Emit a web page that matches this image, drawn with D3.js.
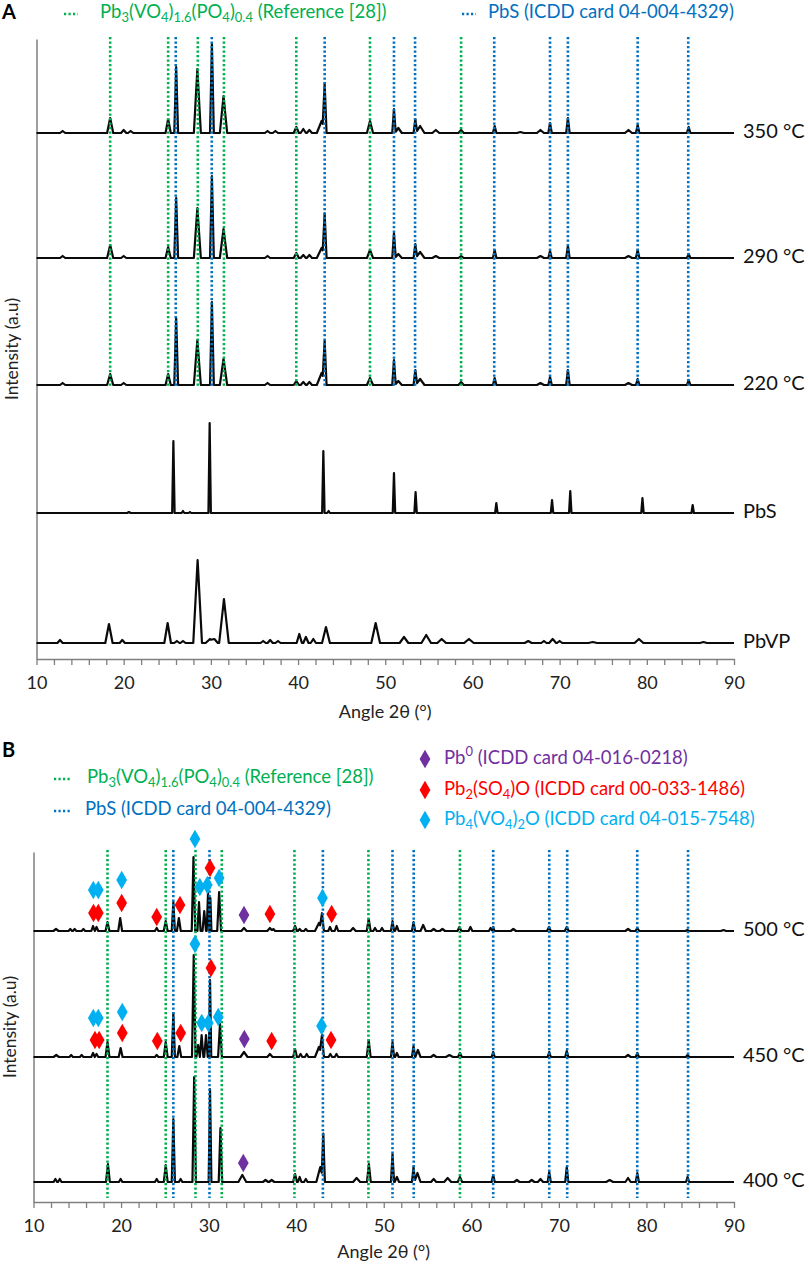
<!DOCTYPE html>
<html>
<head>
<meta charset="utf-8">
<script src="https://cdnjs.cloudflare.com/ajax/libs/d3/7.8.5/d3.min.js"></script>
<style>
  body { margin: 0; background: #fff; }
  svg { display: block; font-family: Lato, 'Open Sans', sans-serif; }
</style>
</head>
<body>
<svg></svg>
<script>
// reference reflections (2θ, degrees)
let vpLines = [18.45, 25.1, 28.5, 31.5, 39.8, 48.25, 58.7];
let pbsLines = [25.97, 30.1, 43.05, 51.0, 53.42, 62.5, 68.9, 70.95, 78.95, 84.75];

// peaks: [2θ, height above baseline, half width at foot]
let peaks350 = [[13.0,2,0.3],[18.45,15,0.35],[20.0,3,0.3],[20.8,2,0.3],[25.1,14,0.3],[26.02,66,0.22],[28.45,64,0.4],[30.12,89,0.22],[31.45,37,0.42],[36.5,2,0.3],[37.4,2,0.3],[39.8,6,0.3],[40.6,4,0.3],[41.3,3,0.3],[42.7,12,0.55],[43.05,45,0.22],[48.25,12,0.35],[51.0,24,0.2],[51.5,5,0.4],[53.45,14,0.2],[54.0,7,0.5],[55.8,3,0.4],[58.7,3,0.3],[62.55,7,0.2],[65.5,1,0.4],[67.8,3,0.4],[68.9,10,0.2],[70.95,15,0.2],[77.9,3,0.4],[78.95,8,0.2],[84.8,6,0.2]];
let peaks290 = [[13.0,2,0.3],[18.45,13,0.35],[20.0,2,0.3],[25.1,11,0.3],[26.02,60,0.22],[28.45,50,0.4],[30.12,82,0.22],[31.45,29,0.42],[36.5,2,0.3],[39.8,5,0.3],[40.6,3,0.3],[41.3,3,0.3],[42.7,10,0.55],[43.05,41,0.22],[48.25,8,0.35],[51.0,25,0.2],[51.5,4,0.4],[53.45,14,0.2],[54.0,6,0.5],[55.8,2,0.4],[58.7,2,0.3],[62.55,8,0.2],[67.8,2,0.4],[68.9,7,0.2],[70.95,12,0.2],[77.9,2,0.4],[78.95,8,0.2],[84.8,4,0.2]];
let peaks220 = [[13.0,2,0.3],[18.45,11,0.35],[20.0,2,0.3],[25.1,11,0.3],[26.02,67,0.22],[28.45,45,0.4],[30.12,83,0.22],[31.45,26,0.42],[36.5,2,0.3],[39.8,4,0.3],[40.6,3,0.3],[41.3,3,0.3],[42.7,12,0.55],[43.05,40,0.22],[48.25,7,0.35],[51.0,25,0.2],[51.5,4,0.4],[53.45,15,0.2],[54.0,6,0.5],[58.7,3,0.3],[62.55,7,0.2],[67.8,2,0.4],[68.9,8,0.2],[70.95,15,0.2],[77.9,2,0.4],[78.95,6,0.2],[84.8,5,0.2]];
let peaksPbS = [[20.6,1,0.2],[25.7,72,0.14],[26.8,2,0.15],[27.6,1,0.15],[29.86,90,0.14],[42.9,62,0.14],[43.5,2,0.15],[51.0,40,0.14],[53.48,21,0.14],[62.74,10,0.14],[69.13,13,0.14],[71.22,22,0.14],[79.5,15,0.14],[85.26,8,0.14]];
let peaksPbVP = [[12.7,3,0.3],[18.31,19,0.42],[19.84,3,0.3],[25.04,20,0.38],[26.1,2,0.3],[26.8,2,0.3],[28.48,83,0.5],[29.9,4,0.5],[30.4,4,0.4],[31.5,44,0.55],[36.0,2,0.3],[36.8,3,0.3],[37.7,2,0.3],[40.14,9,0.3],[40.9,6,0.3],[41.75,4,0.3],[43.2,16,0.45],[48.9,20,0.5],[52.15,6,0.5],[54.7,8,0.55],[56.47,4,0.5],[59.6,4,0.55],[66.4,2,0.4],[68.2,2,0.3],[69.2,4,0.4],[70.0,2,0.3],[73.8,1,0.5],[79.1,4,0.5],[86.5,1,0.4]];

let peaks500 = [[12.57,2,0.3],[14.2,2,0.2],[14.7,2,0.2],[15.7,2,0.2],[16.8,5,0.2],[17.2,4,0.2],[18.45,9,0.22],[19.9,13,0.22],[24.07,3,0.2],[25.1,10,0.22],[25.97,29,0.18],[26.6,13,0.22],[28.27,74,0.2],[28.9,29,0.18],[29.5,20,0.2],[29.93,38,0.15],[30.2,33,0.12],[31.2,39,0.22],[34.04,3,0.3],[37.0,3,0.3],[37.4,2,0.2],[39.87,5,0.22],[40.4,2,0.2],[41.1,2,0.2],[42.6,8,0.45],[42.95,16,0.22],[43.86,4,0.2],[44.6,5,0.2],[46.5,3,0.3],[48.28,12,0.22],[49.0,3,0.2],[49.8,3,0.2],[51.0,10,0.18],[51.5,5,0.2],[53.4,9,0.18],[54.5,6,0.3],[55.7,2,0.3],[56.7,2,0.3],[58.64,4,0.22],[59.9,4,0.22],[62.2,3,0.2],[62.5,4,0.15],[64.8,2,0.3],[68.87,4,0.22],[70.9,4,0.22],[77.9,2,0.3],[78.96,3,0.22],[84.67,1,0.2],[88.8,1,0.3]];
let peaks450 = [[12.6,2,0.3],[14.3,2,0.2],[15.5,2,0.2],[16.8,4,0.2],[17.2,3,0.2],[18.45,15,0.22],[19.95,9,0.22],[24.07,2,0.2],[25.1,15,0.22],[25.97,44,0.18],[26.65,11,0.22],[28.3,102,0.2],[28.8,12,0.2],[29.2,22,0.2],[29.7,22,0.2],[30.16,77,0.14],[31.3,33,0.22],[34.04,5,0.4],[37.0,3,0.3],[39.87,8,0.22],[40.5,3,0.2],[41.2,3,0.2],[42.6,10,0.45],[42.95,20,0.22],[43.9,3,0.2],[44.6,3,0.2],[48.28,17,0.22],[51.0,15,0.18],[51.5,4,0.2],[53.4,11,0.18],[53.9,7,0.3],[55.7,2,0.3],[57.5,2,0.4],[58.7,4,0.22],[62.5,5,0.18],[68.9,5,0.18],[70.9,6,0.18],[77.9,2,0.3],[78.96,4,0.18],[84.7,2,0.2]];
let peaks400 = [[12.5,3,0.2],[13.0,3,0.2],[18.5,18,0.22],[19.95,3,0.2],[24.07,3,0.2],[25.1,17,0.22],[25.97,63,0.18],[26.8,3,0.2],[28.35,105,0.2],[30.16,93,0.16],[31.35,54,0.2],[33.85,7,0.45],[36.5,2,0.3],[37.2,2,0.3],[39.87,8,0.22],[40.4,5,0.2],[41.1,3,0.2],[42.75,15,0.45],[43.1,45,0.18],[46.9,4,0.4],[48.3,18,0.22],[51.0,28,0.18],[51.5,5,0.25],[53.4,15,0.18],[53.85,9,0.35],[55.7,3,0.3],[57.3,4,0.4],[58.7,5,0.25],[62.5,7,0.18],[65.2,2,0.3],[66.9,2,0.3],[67.9,3,0.3],[68.9,10,0.18],[70.9,15,0.18],[75.8,2,0.4],[77.9,4,0.3],[78.96,9,0.18],[84.7,5,0.18]];

// stacking baselines (a.u.) and names
let namesA = ['350 °C', '290 °C', '220 °C', 'PbS', 'PbVP'];
let basesA = [526, 401, 274, 146, 16];
let namesB = ['500 °C', '450 °C', '400 °C'];
let basesB = [271, 145, 20];

// phase markers in panel B: [2θ, intensity a.u.]
let cyanMarks = [[16.83,312],[17.4,312],[20.07,322],[28.44,363],[29.0,315],[29.85,317],[31.2,324],[43.0,304],
                 [16.83,184],[17.4,184],[20.14,190],[28.44,258],[29.21,179],[29.96,179],[31.1,185],[42.9,176]];
let redMarks = [[16.85,289],[17.4,289],[20.07,299],[24.07,285],[26.73,297],[30.16,334],[37.0,288],[44.05,288],
                [17.02,162],[17.5,162],[20.14,169],[24.14,161],[26.81,169],[30.27,234],[37.2,161],[43.98,162]];
let purpleMarks = [[34.04,287],[34.08,163],[33.96,39]];

let ticks = d3.range(10, 91, 2);

let vpLegend = [['Pb'],['3','sub'],['(VO'],['4','sub'],[')'],['1.6','sub'],['(PO'],['4','sub'],[')'],['0.4','sub'],[' (Reference [28])']];
let pbsLegend = [['PbS (ICDD card 04-004-4329)']];
let pb0Legend = [['Pb'],['0','sup'],[' (ICDD card 04-016-0218)']];
let pb2Legend = [['Pb'],['2','sub'],['(SO'],['4','sub'],[')O (ICDD card 00-033-1486)']];
let pb4Legend = [['Pb'],['4','sub'],['(VO'],['4','sub'],[')'],['2','sub'],['O (ICDD card 04-015-7548)']];

let green = '#00b050', blue = '#0070c0', red = '#ff0000', cyan = '#00b0f0', purple = '#7030a0';
let axisColor = '#7f7f7f';
let legendSize = 18.5;

let width = 809;
let height = 1265;

let svg = d3.select('svg').attr('width', width).attr('height', height);

// sum of triangular peaks on a flat baseline, evaluated at every foot/top
let tracePoints = (peaks, base) => {
    let xs = [10, 90];
    peaks.forEach(p => xs.push(p[0] - p[2], p[0], p[0] + p[2]));
    xs = xs.filter(x => x >= 10 && x <= 90).sort((a, b) => a - b);
    return xs.map(x => {
        let y = base;
        peaks.forEach(p => {
            let d = Math.abs(x - p[0]);
            if (d < p[2]) y += p[1] * (1 - d / p[2]);
        });
        return [x, y];
    });
}

let richText = (x, y, parts, color, size) => {
    let t = svg.append('text')
               .attr('x', x).attr('y', y)
               .attr('fill', color)
               .attr('dominant-baseline', 'middle')
               .style('font-size', size + 'px');
    let shift = 0;
    parts.forEach(p => {
        let kind = p[1] || '';
        let target = kind === 'sub' ? size * 0.3 : kind === 'sup' ? -size * 0.35 : 0;
        t.append('tspan')
         .attr('dy', target - shift)
         .style('font-size', kind ? (size * 0.7) + 'px' : null)
         .text(p[0]);
        shift = target;
    });
}

let dottedKey = (x1, x2, y, color) => {
    svg.append('line')
       .attr('x1', x1).attr('x2', x2).attr('y1', y).attr('y2', y)
       .attr('stroke', color).attr('stroke-width', 2.5)
       .attr('stroke-dasharray', '2.2,2.3');
}

let diamond = d3.symbol(d3.symbolDiamond, 100);

let drawPanel = (cfg) => {
    let x = d3.scaleLinear().domain([10, 90]).range(cfg.xRange);
    let y = d3.scaleLinear().domain(cfg.yDomain).range(cfg.yRange);
    let g = svg.append('g');

    // x axis
    let xAxis = d3.axisBottom(x)
                  .tickValues(ticks)
                  .tickFormat(d => d % 10 === 0 ? d : '')
                  .tickSize(6)
                  .tickSizeOuter(0)
                  .tickPadding(11);
    let ax = g.append('g')
              .attr('transform', 'translate(0,' + cfg.yRange[0] + ')')
              .call(xAxis);
    ax.select('.domain').attr('stroke', axisColor).attr('stroke-width', 1.5);
    ax.selectAll('.tick line').attr('stroke', axisColor).attr('stroke-width', 1.3);
    ax.selectAll('.tick text')
      .attr('fill', '#222')
      .style('font-size', '18px')
      .style('font-family', 'Lato, sans-serif');

    // y axis: plain line, no ticks
    let ay = g.append('g')
              .attr('transform', 'translate(' + cfg.xRange[0] + ',0)')
              .call(d3.axisLeft(y).tickValues([]).tickSizeOuter(0));
    ay.select('.domain').attr('stroke', axisColor).attr('stroke-width', 1.5);

    g.append('text')
     .attr('x', (cfg.xRange[0] + cfg.xRange[1]) / 2)
     .attr('y', cfg.titleY)
     .attr('text-anchor', 'middle')
     .attr('dominant-baseline', 'middle')
     .attr('fill', '#222')
     .style('font-size', '18px')
     .text('Angle 2θ (°)');

    g.append('text')
     .attr('transform', 'translate(' + cfg.yLabelX + ',' + ((cfg.yRange[0] + cfg.yRange[1]) / 2) + ') rotate(-90)')
     .attr('text-anchor', 'middle')
     .attr('dominant-baseline', 'middle')
     .attr('fill', '#222')
     .style('font-size', '17.5px')
     .text('Intensity (a.u)');

    // patterns
    let line = d3.line().x(d => x(d[0])).y(d => y(d[1]));
    cfg.traces.forEach((peaks, i) => {
        g.append('path')
         .datum(tracePoints(peaks, cfg.bases[i]))
         .attr('d', line)
         .attr('fill', 'none')
         .attr('stroke', '#0a0a0a')
         .attr('stroke-width', 2.2)
         .attr('stroke-linejoin', 'round');
        g.append('text')
         .attr('x', cfg.xRange[1] + 9)
         .attr('y', y(cfg.bases[i]))
         .attr('dominant-baseline', 'middle')
         .attr('fill', '#111')
         .style('font-size', '20px')
         .text(cfg.names[i]);
    });

    // reference lines
    let refs = vpLines.map(v => [v, green]).concat(pbsLines.map(v => [v, blue]));
    g.selectAll('line.ref')
     .data(refs)
     .join('line')
     .attr('class', 'ref')
     .attr('x1', d => x(d[0])).attr('x2', d => x(d[0]))
     .attr('y1', cfg.refTop).attr('y2', cfg.refBottom)
     .attr('stroke', d => d[1])
     .attr('stroke-width', 2.6)
     .attr('stroke-dasharray', '2.2,2.3');

    // markers
    if (cfg.marks) {
        cfg.marks.forEach(m => {
            g.selectAll(null)
             .data(m[0])
             .join('path')
             .attr('d', diamond)
             .attr('transform', d => 'translate(' + x(d[0]) + ',' + y(d[1]) + ')')
             .attr('fill', m[1]);
        });
    }
}

drawPanel({
    xRange: [36.5, 734], yDomain: [0, 620], yRange: [659, 39],
    traces: [peaks350, peaks290, peaks220, peaksPbS, peaksPbVP],
    bases: basesA, names: namesA,
    refTop: 37, refBottom: 387, titleY: 713, yLabelX: 14
});

drawPanel({
    xRange: [33.5, 734], yDomain: [0, 350], yRange: [1202, 852],
    traces: [peaks500, peaks450, peaks400],
    bases: basesB, names: namesB,
    refTop: 850, refBottom: 1198, titleY: 1253, yLabelX: 12,
    marks: [[redMarks, red], [cyanMarks, cyan], [purpleMarks, purple]]
});

// panel letters
svg.append('text').attr('x', 2).attr('y', 14).attr('dominant-baseline', 'middle')
   .style('font-size', '20px').style('font-weight', 'bold').text('A');
svg.append('text').attr('x', 2).attr('y', 752).attr('dominant-baseline', 'middle')
   .style('font-size', '20px').style('font-weight', 'bold').text('B');

// legend A
dottedKey(64, 78, 14, green);
richText(100, 13, vpLegend, green, legendSize);
dottedKey(462, 476, 14, blue);
richText(488, 13, pbsLegend, blue, legendSize);

// legend B
dottedKey(54, 72, 779, green);
richText(87, 778, vpLegend, green, legendSize);
dottedKey(54, 72, 811, blue);
richText(85, 810, pbsLegend, blue, legendSize);

[[pb0Legend, purple, 759], [pb2Legend, red, 790], [pb4Legend, cyan, 820]].forEach(r => {
    svg.append('path').attr('d', diamond).attr('transform', 'translate(425,' + r[2] + ')').attr('fill', r[1]);
    richText(444, r[2], r[0], r[1], legendSize);
});
</script>
</body>
</html>
